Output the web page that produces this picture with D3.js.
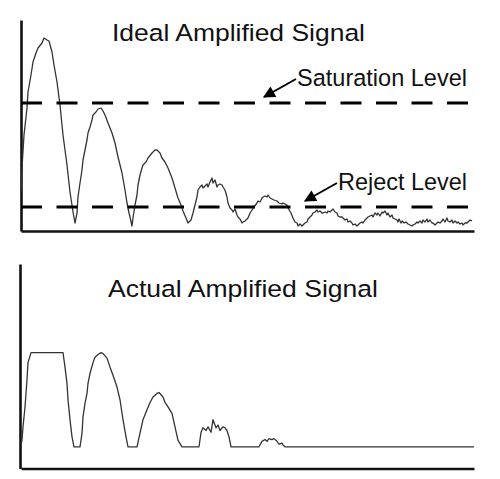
<!DOCTYPE html>
<html>
<head>
<meta charset="utf-8">
<script src="https://cdn.jsdelivr.net/npm/d3@7"></script>
<style>
  body { margin: 0; background: #fff; }
  svg { display: block; font-family: "Liberation Sans", Arial, sans-serif; }
</style>
</head>
<body>
<svg width="500" height="479"></svg>
<script>
// signal readings: [time, amplitude] (arbitrary units)
var idealSignal = [
  [0,39],[1,63],[3,96],[6,123],[7,139],[10,156],[12,169],[15,178],[17,183],[21,188],
  [23,193],[26,191],[28,190],[31,179],[33,166],[36,149],[39,126],[42,96],[46,66],[49,39],
  [52,19],[54,8],[56,18],[57,34],[59,48],[61,61],[62,71],[64,81],[66,91],[67,98],
  [69,104],[71,111],[72,116],[75,119],[77,122],[80,123],[82,120],[84,116],[87,108],[91,98],
  [94,88],[97,74],[101,58],[104,41],[106,28],[108,18],[109,14],[111,5],[112,13],[114,26],
  [116,36],[117,46],[119,56],[121,63],[122,66],[125,69],[127,73],[131,78],[134,81],[136,81],
  [139,78],[141,73],[144,69],[147,63],[151,53],[154,43],[157,33],[160,26],[162,20],[165,13],
  [167,8],[170,11],[172,18],[174,26],[176,34],[177,41],[179,44],[181,46],[182,43],[184,45],
  [186,47],[187,44],[189,49],[191,53],[192,48],[194,51],[196,44],[197,46],[199,47],[201,46],
  [202,44],[204,41],[206,34],[207,28],[209,23],[211,21],[212,19],[214,22],[216,16],[217,14],
  [219,12],[221,8],[222,9],[224,10],[227,13],[229,18],[231,21],[233,24],[236,28],[237,30],
  [239,29],[241,33],[242,34],[244,35],[246,34],[247,36],[249,33],[251,32],[253,31],[256,30],
  [258,28],[261,27],[262,28],[264,27],[266,26],[267,23],[270,18],[272,13],[274,9],[276,8],
  [277,5],[279,7],[281,5],[282,6],[284,8],[286,9],[287,12],[289,14],[291,16],[292,18],
  [294,19],[296,21],[297,19],[299,20],[301,18],[302,18],[304,19],[306,18],[307,20],[309,19],
  [311,21],[312,22],[314,19],[316,18],[317,15],[319,14],[321,14],[322,13],[324,11],[326,12],
  [327,9],[329,10],[331,8],[332,6],[334,7],[336,5],[337,6],[339,8],[341,9],[342,8],
  [344,11],[346,13],[347,14],[349,15],[351,16],[352,14],[354,18],[356,16],[357,18],[359,15],
  [361,19],[362,18],[364,20],[366,16],[367,18],[369,14],[371,16],[372,13],[374,12],[376,11],
  [377,9],[378,12],[380,8],[381,10],[383,8],[385,9],[387,7],[389,6],[391,5],[392,6],
  [394,7],[396,9],[397,8],[399,10],[401,8],[402,11],[404,9],[406,12],[407,9],[409,11],
  [411,8],[412,8],[414,6],[416,8],[417,9],[419,8],[421,10],[422,12],[424,9],[426,13],
  [427,10],[429,9],[431,11],[432,8],[434,10],[436,8],[437,9],[439,7],[441,8],[442,6],
  [444,8],[446,8],[447,9],[449,11],[451,10]
];

var actualSignal = [
  [0,27],[1,31],[2,46],[4,68],[6,98],[7,117],[10,128],[42,128],[44,112],[46,94],
  [47,76],[49,54],[51,35],[53,24],[59,24],[61,39],[62,57],[64,72],[66,83],[67,94],
  [69,105],[72,117],[74,123],[77,126],[80,128],[82,127],[86,122],[89,112],[92,103],[96,90],
  [99,76],[102,54],[105,35],[107,24],[116,24],[119,39],[122,54],[126,65],[129,73],[132,79],
  [136,83],[138,84],[142,79],[144,73],[147,68],[151,61],[154,46],[157,31],[161,24],[178,24],
  [180,40],[182,45],[185,42],[187,46],[190,40],[192,54],[195,45],[197,48],[199,42],[202,46],
  [204,45],[206,42],[208,35],[210,24],[238,24],[241,30],[244,32],[246,30],[248,33],[251,32],
  [253,33],[256,30],[258,27],[261,28],[262,26],[264,24],[453,24]
];

var levelValues = [128, 24];
var levelLabels = ["Saturation Level", "Reject Level"];
var titles = ["Ideal Amplified Signal", "Actual Amplified Signal"];

(function() {
  var svg = d3.select("svg");

  var x = d3.scaleLinear().domain([0, 453]).range([21, 474]);
  var yTop = d3.scaleLinear().domain([0, 211]).range([231, 20]);
  var yBot = d3.scaleLinear().domain([0, 226]).range([468.5, 264]);

  svg.append("defs").append("marker")
      .attr("id", "arrow")
      .attr("viewBox", "0 0 10 10")
      .attr("refX", 9).attr("refY", 5)
      .attr("markerWidth", 6.5).attr("markerHeight", 6)
      .attr("markerUnits", "strokeWidth")
      .attr("orient", "auto")
    .append("path")
      .attr("d", "M0,0L10,5L0,10z")
      .attr("fill", "#000");

  function panel(yScale, x0, data, title, titleX, titleY, titleLen) {
    var g = svg.append("g");

    g.append("g")
        .attr("transform", "translate(0," + yScale.range()[0] + ")")
        .call(d3.axisBottom(x).tickValues([]).tickSizeOuter(0))
      .select(".domain")
        .attr("stroke", "#111")
        .attr("stroke-width", 2.6);

    g.append("g")
        .attr("transform", "translate(" + x0 + ",0)")
        .call(d3.axisLeft(yScale).tickValues([]).tickSizeOuter(0))
      .select(".domain")
        .attr("stroke", "#111")
        .attr("stroke-width", 2.6);

    g.append("path")
        .datum(data)
        .attr("fill", "none")
        .attr("stroke", "#333")
        .attr("stroke-width", 1.3)
        .attr("stroke-linejoin", "round")
        .attr("d", d3.line()
          .x(function(d) { return x(d[0]); })
          .y(function(d) { return yScale(d[1]); }));

    g.append("text")
        .attr("x", titleX)
        .attr("y", titleY)
        .attr("font-size", 24.5)
        .attr("textLength", titleLen)
        .attr("lengthAdjust", "spacingAndGlyphs")
        .attr("fill", "#111")
        .text(title);
    return g;
  }

  panel(yTop, 21, idealSignal, titles[0], 112, 40.5, 253);
  panel(yBot, 20, actualSignal, titles[1], 108, 296.5, 270);

  // threshold lines on the ideal signal
  svg.selectAll(".level")
    .data(levelValues)
    .enter().append("line")
      .attr("class", "level")
      .attr("x1", x(0))
      .attr("x2", 471)
      .attr("y1", function(d) { return yTop(d); })
      .attr("y2", function(d) { return yTop(d); })
      .attr("stroke", "#000")
      .attr("stroke-width", 3)
      .attr("stroke-dasharray", "21,14.5");

  var labelEnd = 467;
  var labelLen = [170, 129];
  var lab = svg.selectAll(".lab")
    .data(levelValues)
    .enter().append("g")
      .attr("class", "lab");

  lab.append("text")
      .attr("x", function(d, i) { return labelEnd - labelLen[i]; })
      .attr("y", function(d) { return yTop(d) - 17.5; })
      .attr("font-size", 24.5)
      .attr("textLength", function(d, i) { return labelLen[i]; })
      .attr("lengthAdjust", "spacingAndGlyphs")
      .attr("fill", "#111")
      .text(function(d, i) { return levelLabels[i]; });

  lab.each(function(d, i) {
    var start = labelEnd - labelLen[i];
    var base = yTop(d) - 17.5;
    d3.select(this).append("line")
        .attr("x1", start - 1)
        .attr("y1", base - 6.5)
        .attr("x2", start - 33)
        .attr("y2", yTop(d) - 6)
        .attr("stroke", "#000")
        .attr("stroke-width", 2)
        .attr("marker-end", "url(#arrow)");
  });
})();
</script>
</body>
</html>
